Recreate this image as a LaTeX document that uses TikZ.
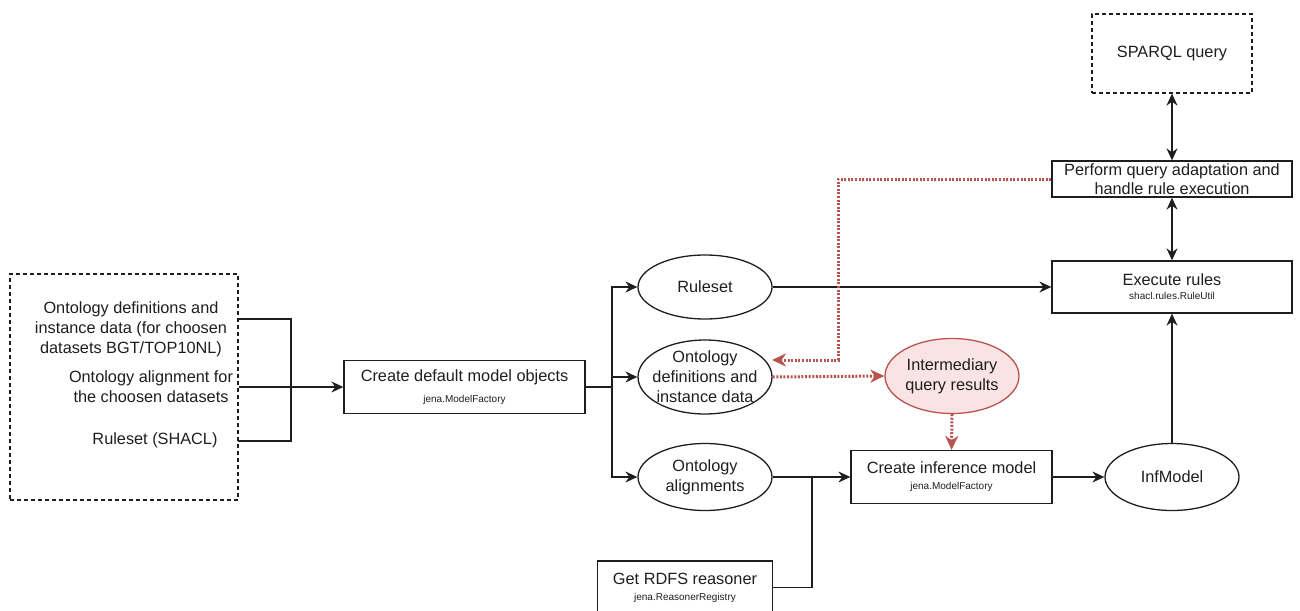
\documentclass[tikz,border=0pt]{standalone}
\usepackage{fontspec}
\setmainfont{Liberation Sans}
\usetikzlibrary{arrows.meta,shapes.geometric}
\definecolor{ink}{RGB}{30,30,30}
\definecolor{redline}{RGB}{184,84,80}
\definecolor{pinkfill}{RGB}{250,228,227}
\newcommand{\subfont}{\fontsize{10}{11}\selectfont}
\begin{document}
\begin{tikzpicture}[x=1pt,y=-1pt,
  every node/.style={text=ink, align=center, inner sep=0pt,
    font=\fontsize{16.3}{20}\selectfont},
  box/.style={draw=ink, line width=1.3pt, rectangle},
  dbox/.style={box, dash pattern=on 4pt off 3pt},
  oval/.style={draw=ink, line width=1.3pt, ellipse},
  link/.style={draw=ink, line width=1.3pt},
  flow/.style={link, -{Stealth[length=12pt,width=11pt,inset=4pt]}},
  both/.style={link, {Stealth[length=12pt,width=11pt,inset=4pt]}-{Stealth[length=12pt,width=11pt,inset=4pt]}},
  redflow/.style={draw=redline, line width=3pt, dash pattern=on 2pt off 1.6pt,
    -{Stealth[length=14pt,width=13pt,inset=4.5pt]}}
]
\useasboundingbox (0,0) rectangle (1300,610);

% input data sources
\node[dbox, minimum width=228, minimum height=226] (src) at (124,387) {};
\node (t1) at (131,329) {Ontology definitions and\\instance data (for choosen\\datasets BGT/TOP10NL)};
\node (t2) at (151,387) {Ontology alignment for\\the choosen datasets};
\node (t3) at (155,440) {Ruleset (SHACL)};

% processing steps and models
\node[box, minimum width=241, minimum height=53] (dm) at (464.5,387)
  {Create default model objects\\[1pt]{\subfont jena.ModelFactory}};
\node[oval, minimum width=134, minimum height=64] (rs) at (705,287) {Ruleset};
\node[oval, minimum width=134, minimum height=74,
  label={center:Ontology\\definitions and\\instance data}] (od) at (705,377) {};
\node[oval, minimum width=134, minimum height=67] (oa) at (705,477)
  {Ontology\\alignments};
\node[oval, draw=redline, fill=pinkfill, minimum width=134, minimum height=75,
  label={center:Intermediary\\query results}] (iq) at (952,376) {};
\node[box, minimum width=201, minimum height=53] (im) at (951.5,477)
  {Create inference model\\[-4pt]{\subfont jena.ModelFactory}};
\node[oval, minimum width=134, minimum height=67] (inf) at (1172,477) {InfModel};
\node[box, minimum width=240, minimum height=52] (ex) at (1172,287)
  {Execute rules\\[-6pt]{\subfont shacl.rules.RuleUtil}};
\node[box, minimum width=240, minimum height=36] (pq) at (1172,179)
  {Perform query adaptation and\\[-1pt]handle rule execution};
\node[dbox, minimum width=160, minimum height=79] (sq) at (1172,53.5) {SPARQL query};
\node[box, minimum width=175, minimum height=53] (rr) at (685,587.5)
  {Get RDFS reasoner\\[-4pt]{\subfont jena.ReasonerRegistry}};

% junction points
\coordinate (s1) at (238,319);
\coordinate (s3) at (238,441);
\coordinate (j1) at (291,387);
\coordinate (j2) at (612,387);
\coordinate (j3) at (812,477);
\coordinate (rbend) at (838,360);
\coordinate (rtip) at (772,360);

% data loading
\draw[link] (s1) -| (j1);
\draw[link] (s3) -| (j1);
\draw[flow] (src.east) -- (dm.west);
\draw[link] (dm.east) -- (j2);
\draw[flow] (j2) |- (rs.west);
\draw[flow] (j2) |- (od.west);
\draw[flow] (j2) |- (oa.west);

% inference and rule execution
\draw[flow] (rs.east) -- (ex.west);
\draw[link] (oa.east) -- (j3);
\draw[flow] (j3) -- (im.west);
\draw[link] (rr.east) -| (j3);
\draw[flow] (im.east) -- (inf.west);
\draw[flow] (inf.north) -- (ex.south);
\draw[both] (ex.north) -- (pq.south);
\draw[both] (pq.north) -- (sq.south);

% intermediary query flow
\draw[redflow] (pq.west) -| (rbend) -- (rtip);
\draw[redflow] (od.east) -- (iq.west);
\draw[redflow] (iq.south) -- (im.north);
\end{tikzpicture}
\end{document}
